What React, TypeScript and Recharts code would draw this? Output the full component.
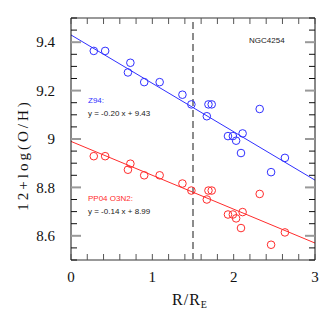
import React from "react";
import {
  ComposedChart,
  Scatter,
  Line,
  XAxis,
  YAxis,
  ReferenceLine,
} from "recharts";

// galactocentric radius in units of R_E
const radius = [0.28, 0.42, 0.7, 0.73, 0.9, 1.09, 1.37, 1.48, 1.67, 1.69, 1.73, 1.93, 1.99, 2.03, 2.09, 2.11, 2.32, 2.46, 2.63];
const z94 = [9.364, 9.364, 9.275, 9.315, 9.235, 9.235, 9.183, 9.143, 9.094, 9.143, 9.143, 9.012, 9.012, 8.993, 8.942, 9.023, 9.124, 8.863, 8.922];
const pp04 = [8.929, 8.929, 8.873, 8.898, 8.85, 8.85, 8.816, 8.787, 8.75, 8.787, 8.787, 8.688, 8.688, 8.672, 8.632, 8.698, 8.773, 8.563, 8.614];

// linear fits (end points at R = 0 and R = 3)
const fitX = [0, 3];
const z94Fit = [9.43, 8.83];
const pp04Fit = [8.99, 8.57];

const effRadius = 1.5;

const xTicks = [0, 0.2, 0.4, 0.6, 0.8, 1, 1.2, 1.4, 1.6, 1.8, 2, 2.2, 2.4, 2.6, 2.8, 3];
const xLabels = [0, 1, 2, 3];
const yTicks = [8.5, 8.55, 8.6, 8.65, 8.7, 8.75, 8.8, 8.85, 8.9, 8.95, 9, 9.05, 9.1, 9.15, 9.2, 9.25, 9.3, 9.35, 9.4, 9.45, 9.5];
const yLabels = [8.6, 8.8, 9, 9.2, 9.4];

const BLUE = "#3030ff";
const RED = "#ff2c2c";
const SERIF = "'Liberation Serif', serif";
const SANS = "'Liberation Sans', Arial, sans-serif";

const points = radius.map((r, i) => ({ x: r, z94: z94[i], pp04: pp04[i] }));
const fits = fitX.map((x, i) => ({ x, z94: z94Fit[i], pp04: pp04Fit[i] }));

const ring = (color: string) => (props: any) =>
  <circle cx={props.cx} cy={props.cy} r={3.8} fill="none" stroke={color} strokeWidth={1} />;

function BottomTick({ x, y, payload }: any) {
  const v = payload.value;
  return (
    <g>
      <line x1={x} x2={x} y1={y} y2={y - 6} stroke="#555" />
      {xLabels.includes(v) && (
        <text x={x} y={y + 21.5} textAnchor="middle" fontFamily={SERIF} fontSize={15} fill="#111">
          {v}
        </text>
      )}
    </g>
  );
}

function TopTick({ x, y }: any) {
  return <line x1={x} x2={x} y1={y} y2={y + 6} stroke="#555" />;
}

function LeftTick({ x, y, payload }: any) {
  const v = payload.value;
  const major = yLabels.includes(v);
  return (
    <g>
      <line x1={x} x2={x + (major ? 10 : 6)} y1={y} y2={y} stroke={major ? "#999" : "#111"} strokeWidth={major ? 2 : 1} />
      {major && (
        <text x={x - 16} y={y} dy="0.35em" textAnchor="end" fontFamily={SERIF} fontSize={15} fill="#111">
          {v}
        </text>
      )}
    </g>
  );
}

function RightTick({ x, y, payload }: any) {
  const major = yLabels.includes(payload.value);
  return <line x1={x} x2={x - (major ? 10 : 6)} y1={y} y2={y} stroke={major ? "#999" : "#111"} strokeWidth={major ? 2 : 1} />;
}

export default function App() {
  return (
    <div style={{ position: "absolute", left: 0, top: 0, width: 332, height: 332, background: "#fff" }}>
      <ComposedChart width={332} height={332} margin={{ top: 17, right: 16, bottom: 71, left: 70 }}>
        <XAxis
          xAxisId="b"
          dataKey="x"
          type="number"
          domain={[0, 3]}
          allowDataOverflow
          ticks={xTicks}
          interval={0}
          height={1}
          tickSize={0}
          tickMargin={0}
          tickLine={false}
          axisLine={{ stroke: "#999", strokeWidth: 2 }}
          tick={<BottomTick />}
        />
        <XAxis
          xAxisId="t"
          orientation="top"
          dataKey="x"
          type="number"
          domain={[0, 3]}
          allowDataOverflow
          ticks={xTicks}
          interval={0}
          height={1}
          tickSize={0}
          tickMargin={0}
          tickLine={false}
          axisLine={{ stroke: "#999", strokeWidth: 2 }}
          tick={<TopTick />}
        />
        <YAxis
          yAxisId="l"
          type="number"
          domain={[8.5, 9.5]}
          allowDataOverflow
          ticks={yTicks}
          interval={0}
          width={1}
          tickSize={0}
          tickMargin={0}
          tickLine={false}
          axisLine={{ stroke: "#111" }}
          tick={<LeftTick />}
        />
        <YAxis
          yAxisId="r"
          orientation="right"
          type="number"
          domain={[8.5, 9.5]}
          allowDataOverflow
          ticks={yTicks}
          interval={0}
          width={1}
          tickSize={0}
          tickMargin={0}
          tickLine={false}
          axisLine={{ stroke: "#111" }}
          tick={<RightTick />}
        />
        <ReferenceLine xAxisId="b" yAxisId="l" x={effRadius} stroke="#666" strokeWidth={1.5} strokeDasharray="7 4" />
        <Line xAxisId="b" yAxisId="l" data={fits} dataKey="z94" stroke={BLUE} strokeWidth={1} dot={false} isAnimationActive={false} />
        <Line xAxisId="b" yAxisId="l" data={fits} dataKey="pp04" stroke={RED} strokeWidth={1} dot={false} isAnimationActive={false} />
        <Scatter xAxisId="b" yAxisId="l" data={points} dataKey="z94" shape={ring(BLUE)} isAnimationActive={false} />
        <Scatter xAxisId="b" yAxisId="l" data={points} dataKey="pp04" shape={ring(RED)} isAnimationActive={false} />
      </ComposedChart>
      <svg width={332} height={332} style={{ position: "absolute", left: 0, top: 0, pointerEvents: "none" }}>
        <text x={249} y={43} fontFamily={SANS} fontSize={8} fill="#222">NGC4254</text>
        <text x={88} y={103} fontFamily={SANS} fontSize={8} fill={BLUE}>Z94:</text>
        <text x={88} y={116} fontFamily={SANS} fontSize={8} fill="#222">y = -0.20 x + 9.43</text>
        <text x={88} y={201} fontFamily={SANS} fontSize={8} fill={RED}>PP04 O3N2:</text>
        <text x={88} y={214} fontFamily={SANS} fontSize={8} fill="#222">y = -0.14 x + 8.99</text>
        <text
          transform="translate(23,155) rotate(-90)"
          textAnchor="middle"
          dy="0.35em"
          fontFamily={SERIF}
          fontSize={15}
          letterSpacing={3}
          fill="#111"
        >
          12+log(O/H)
        </text>
        <text x={190} y={305} textAnchor="middle" fontFamily={SERIF} fontSize={16} letterSpacing={1} fill="#111">
          R/R<tspan fontSize={10} dy={3}>E</tspan>
        </text>
      </svg>
    </div>
  );
}
